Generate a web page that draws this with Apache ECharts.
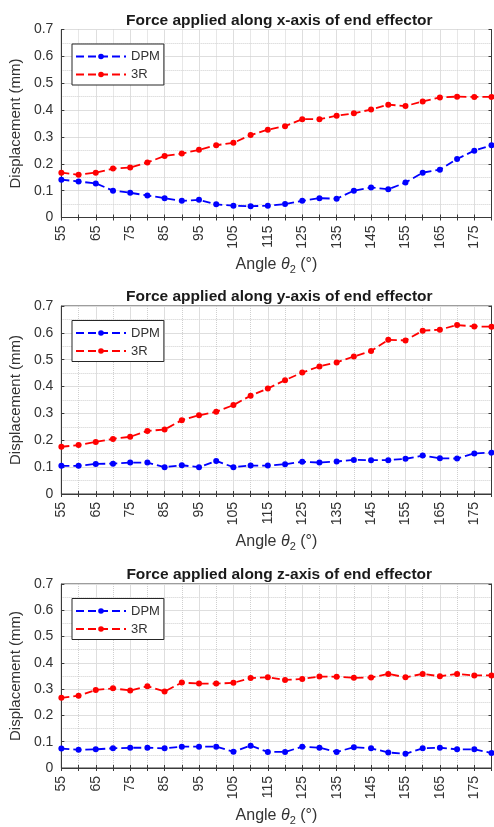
<!DOCTYPE html>
<html>
<head>
<meta charset="utf-8">
<script src="https://cdn.jsdelivr.net/npm/echarts@6/dist/echarts.min.js"></script>
<style>
html,body{margin:0;padding:0;background:#fff;}
#main{width:494px;height:827px;}
</style>
</head>
<body>
<div id="main"></div>
<script>
// ---- data ----
var angles = ['55','60','65','70','75','80','85','90','95','100','105','110','115','120','125','130','135','140','145','150','155','160','165','170','175','180'];
var titles = ['Force applied along x-axis of end effector','Force applied along y-axis of end effector','Force applied along z-axis of end effector'];
var yTicks = [0,0.1,0.2,0.3,0.4,0.5,0.6,0.7];

var dpmX = [0.141,0.134,0.127,0.100,0.092,0.082,0.072,0.062,0.066,0.049,0.044,0.042,0.044,0.050,0.062,0.072,0.070,0.100,0.112,0.105,0.130,0.167,0.178,0.218,0.249,0.269];
var r3X  = [0.167,0.159,0.167,0.182,0.186,0.205,0.229,0.238,0.252,0.269,0.278,0.307,0.327,0.340,0.366,0.366,0.379,0.388,0.402,0.420,0.415,0.432,0.447,0.450,0.449,0.449];

var dpmY = [0.105,0.105,0.112,0.113,0.117,0.117,0.100,0.107,0.100,0.123,0.100,0.106,0.106,0.111,0.120,0.117,0.121,0.127,0.126,0.126,0.131,0.143,0.133,0.132,0.151,0.154];
var r3Y  = [0.176,0.182,0.194,0.205,0.213,0.235,0.240,0.275,0.293,0.306,0.331,0.366,0.393,0.424,0.452,0.475,0.490,0.512,0.532,0.574,0.572,0.608,0.612,0.629,0.624,0.623];

var dpmZ = [0.074,0.069,0.071,0.075,0.077,0.077,0.075,0.081,0.081,0.081,0.062,0.085,0.061,0.061,0.081,0.077,0.061,0.079,0.075,0.059,0.054,0.075,0.077,0.071,0.071,0.057];
var r3Z  = [0.267,0.275,0.297,0.303,0.295,0.311,0.291,0.325,0.321,0.321,0.324,0.342,0.345,0.335,0.339,0.348,0.347,0.343,0.344,0.358,0.345,0.358,0.349,0.358,0.352,0.352];

var dpmSets = [dpmX, dpmY, dpmZ];
var r3Sets = [r3X, r3Y, r3Z];

// ---- layout ----
var FONT = 'Liberation Sans';
var TXT = '#333333';
var AX = '#3a3a3a';
var gridTops = [29.5, 306, 584];
var gridHeights = [188, 188, 187];
var gridLeft = 57, gridWidth = 434.5;

function buildOption() {
  var option = {
    animation: false,
    backgroundColor: '#ffffff',
    title: [], grid: [], xAxis: [], yAxis: [], series: [], legend: []
  };
  for (var i = 0; i < 3; i++) {
    var gTop = gridTops[i];
    option.title.push({
      text: titles[i],
      left: gridLeft + gridWidth / 2, top: gTop - 22,
      textAlign: 'center',
      textStyle: { fontFamily: FONT, fontSize: 15.5, fontWeight: 'bold', color: '#1a1a1a' }
    });
    option.grid.push({
      left: gridLeft, top: gTop, width: gridWidth, height: gridHeights[i],
      show: true, borderColor: AX, borderWidth: 1
    });
    option.xAxis.push({
      type: 'category', gridIndex: i, data: angles, boundaryGap: false, position: 'bottom',
      name: '{a|Angle }{i|θ}{s|2}{a| (°)}',
      nameLocation: 'middle', nameGap: 37,
      nameTextStyle: {
        rich: {
          a: { fontFamily: FONT, fontSize: 16, color: TXT },
          i: { fontFamily: FONT, fontSize: 16, color: TXT, fontStyle: 'italic' },
          s: { fontFamily: FONT, fontSize: 11, color: TXT, padding: [10, 0, 0, 0] }
        }
      },
      axisLine: { show: true, lineStyle: { color: AX, width: 1 } },
      axisTick: { show: true, inside: true, length: 3, interval: 0, lineStyle: { color: AX } },
      axisLabel: {
        interval: function (idx) { return idx % 2 === 0; },
        rotate: 90, margin: 8, fontFamily: FONT, fontSize: 14, color: TXT
      },
      splitLine: {
        show: true,
        interval: function (idx) { return idx % 2 === 0; },
        lineStyle: { color: '#dedede', width: 1 }
      }
    });
    option.xAxis.push({
      type: 'category', gridIndex: i, data: angles, boundaryGap: false, position: 'top',
      axisLine: { show: true, lineStyle: { color: AX, width: 1 } },
      axisTick: { show: true, inside: true, length: 3, interval: 0, lineStyle: { color: AX } },
      axisLabel: { show: false },
      splitLine: {
        show: true,
        interval: function (idx) { return idx % 2 === 1; },
        lineStyle: { color: '#cfcfcf', width: 1, type: 'dotted' }
      }
    });
    option.yAxis.push({
      type: 'value', gridIndex: i, min: yTicks[0], max: yTicks[yTicks.length - 1], interval: 0.1,
      position: 'left',
      name: 'Displacement (mm)', nameLocation: 'middle', nameGap: 32,
      nameTextStyle: { fontFamily: FONT, fontSize: 15, color: TXT },
      axisLine: { show: true, lineStyle: { color: AX, width: 1 } },
      axisTick: { show: true, inside: true, length: 3, lineStyle: { color: AX } },
      axisLabel: { margin: 8, fontFamily: FONT, fontSize: 14, color: TXT },
      splitLine: { show: true, lineStyle: { color: '#dedede', width: 1 } },
      minorTick: { show: false, splitNumber: 2 },
      minorSplitLine: { show: true, lineStyle: { color: '#cfcfcf', width: 1, type: 'dotted' } }
    });
    option.yAxis.push({
      type: 'value', gridIndex: i, min: yTicks[0], max: yTicks[yTicks.length - 1], interval: 0.1,
      position: 'right',
      axisLine: { show: true, lineStyle: { color: AX, width: 1 } },
      axisTick: { show: true, inside: true, length: 3, lineStyle: { color: AX } },
      axisLabel: { show: false },
      splitLine: { show: false }
    });
    option.series.push({
      name: 'DPM', type: 'line', xAxisIndex: 2 * i, yAxisIndex: 2 * i,
      data: dpmSets[i], symbol: 'circle', symbolSize: 6,
      lineStyle: { color: '#0000ff', width: 1.8, type: [8, 4] },
      itemStyle: { color: '#0000ff' }
    });
    option.series.push({
      name: '3R', type: 'line', xAxisIndex: 2 * i, yAxisIndex: 2 * i,
      data: r3Sets[i], symbol: 'circle', symbolSize: 6,
      lineStyle: { color: '#ff0000', width: 1.8, type: [8, 4] },
      itemStyle: { color: '#ff0000' }
    });
    option.legend.push({
      data: ['DPM', '3R'], orient: 'vertical',
      left: 72, top: gTop + 14.5,
      padding: [6, 4, 4, 3],
      itemWidth: 50, itemHeight: 7, itemGap: 5,
      backgroundColor: '#ffffff', borderColor: '#262626', borderWidth: 1,
      textStyle: { fontFamily: FONT, fontSize: 13, color: TXT },
      selectedMode: false
    });
  }
  return option;
}

var chart = echarts.init(document.getElementById('main'));
chart.setOption(buildOption());
</script>
</body>
</html>
